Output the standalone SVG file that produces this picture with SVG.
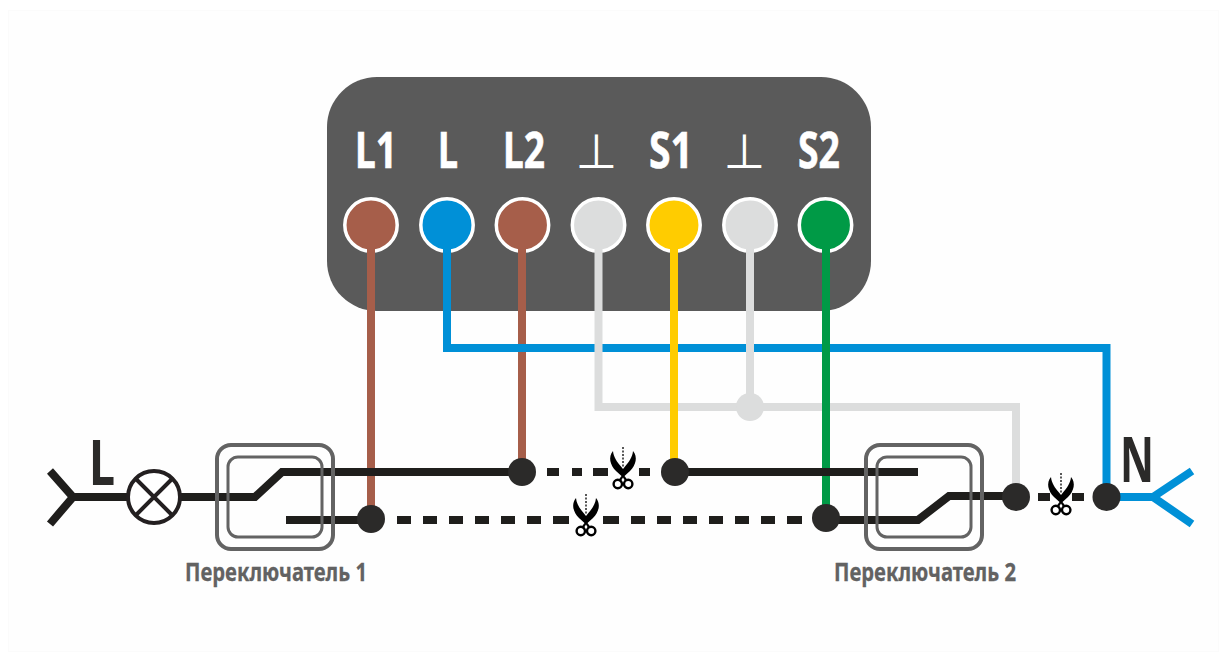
<svg xmlns="http://www.w3.org/2000/svg" width="1227" height="661" viewBox="0 0 1227 661">
<style>
.w{fill:none;stroke-width:8}
.k{fill:none;stroke:#1f1e1c;stroke-width:8}
.d{fill:#2b2a29}
.t{font-family:"Noto Sans",sans-serif;font-weight:700}
.top{fill:#fff;font-size:50px;stroke:#fff;stroke-width:.6}
.cap{fill:#626262;font-size:25px;stroke:#626262;stroke-width:.3}
.perp{fill:#fff;font-size:48px;font-family:"DejaVu Sans",sans-serif}
.term{stroke:#fff;stroke-width:3.5}
.sw{fill:none;stroke:#636363}
</style>
<defs>
<g id="sc">
<path d="M-10 4C-15 10-13 18-7 24L-1.500 29L-4.500 33L-2.500 34.500L0 30.500L2.500 34.500L4.500 33L1.500 29L7 24C13 18 15 10 10 4C9.500 10 6 15 2 19.500L0 22L-2 19.500C-6 15-9.500 10-10 4Z" fill="#000"/>
<circle cx="-5.200" cy="37" r="4.200" fill="#fff" stroke="#000" stroke-width="2.400"/>
<circle cx="5.200" cy="37" r="4.200" fill="#fff" stroke="#000" stroke-width="2.400"/>
<path d="M0 0V21" stroke="#222" stroke-width="1.500" stroke-dasharray="2 1.500"/>
</g>
</defs>
<rect width="1227" height="661" fill="#fff"/>
<rect x="8.500" y="10.500" width="1210" height="641" fill="#fefefe" stroke="#fbfbfb"/>
<g id="device">
<rect x="327" y="77" width="544" height="234" rx="50" fill="#5a5a5a"/>
<text class="t top" x="355" y="168" textLength="42" lengthAdjust="spacingAndGlyphs">L1</text>
<text class="t top" x="438" y="168" textLength="20" lengthAdjust="spacingAndGlyphs">L</text>
<text class="t top" x="503" y="168" textLength="42" lengthAdjust="spacingAndGlyphs">L2</text>
<text class="perp" x="596.500" y="168" text-anchor="middle">⊥</text>
<text class="t top" x="649" y="168" textLength="44" lengthAdjust="spacingAndGlyphs">S1</text>
<text class="perp" x="744.500" y="168" text-anchor="middle">⊥</text>
<text class="t top" x="798" y="168" textLength="42" lengthAdjust="spacingAndGlyphs">S2</text>
</g>
<g id="terminals">
<circle class="term" cx="371" cy="225" r="26.200" fill="#a65e4a"/>
<circle class="term" cx="447" cy="225" r="26.200" fill="#0090d7"/>
<circle class="term" cx="522.500" cy="225" r="26.200" fill="#a65e4a"/>
<circle class="term" cx="598.500" cy="225" r="26.200" fill="#dcdddd"/>
<circle class="term" cx="674" cy="225" r="26.200" fill="#ffcc00"/>
<circle class="term" cx="750" cy="225" r="26.200" fill="#dcdddd"/>
<circle class="term" cx="825.500" cy="225" r="26.200" fill="#009a46"/>
</g>
<g id="connectors">
<path class="w" stroke="#a65e4a" d="M371 245V519M522 245V472"/>
<path class="w" stroke="#0090d7" d="M447 245V348H1106.500V497H1153M1192 471L1153 497L1192 524"/>
<path class="w" stroke="#dcdddd" d="M598.500 245V407H1016V497M750 245V407"/>
<path class="w" stroke="#ffcc00" d="M674 245V472"/>
<path class="w" stroke="#009a46" d="M826 245V519"/>
<path class="k" d="M50 471L73 497L50 524M73 497H255L282 472H522M675 472H918M286 520H371M826 520H918L949 496H1016"/>
<path class="k" d="M397 520H411M423 520H437M449 520H463M475 520H489M501 520H515M527 520H541M553 520H569M603 520H619M631 520H645M657 520H671M683 520H697M709 520H723M735 520H749M761 520H775M787 520H802M547 472H559M572 472H582M593 472H608M639 472H650M1038 497H1050M1072 497H1084"/>
</g>
<g id="junctions">
<circle class="d" cx="371" cy="519" r="14"/>
<circle class="d" cx="522" cy="472" r="14"/>
<circle class="d" cx="675" cy="472" r="14"/>
<circle class="d" cx="826" cy="518" r="14"/>
<circle class="d" cx="1016" cy="497" r="14"/>
<circle class="d" cx="1106.500" cy="497" r="14"/>
<circle cx="750" cy="407" r="14" fill="#dcdddd"/>
</g>
<g id="lamp">
<circle cx="154" cy="497" r="26" fill="#fff" stroke="#231f20" stroke-width="4"/>
<path d="M136 479L172 515M172 479L136 515" stroke="#231f20" stroke-width="4"/>
</g>
<g id="switch1">
<rect class="sw" x="217" y="445" width="116" height="104" rx="14" stroke-width="4"/>
<rect class="sw" x="228" y="457" width="94" height="80" rx="10" stroke-width="3"/>
</g>
<g id="switch2">
<rect class="sw" x="866" y="445" width="116" height="104" rx="14" stroke-width="4"/>
<rect class="sw" x="877" y="457" width="94" height="80" rx="10" stroke-width="3"/>
</g>
<g id="labels">
<text class="t" x="89" y="485" font-size="63" fill="#2b2a29" textLength="26" lengthAdjust="spacingAndGlyphs">L</text>
<text class="t" x="1120" y="482" font-size="63" fill="#2b2a29" textLength="34" lengthAdjust="spacingAndGlyphs">N</text>
<text class="t cap" x="185" y="581" textLength="182" lengthAdjust="spacingAndGlyphs">Переключатель 1</text>
<text class="t cap" x="834" y="581" textLength="182" lengthAdjust="spacingAndGlyphs">Переключатель 2</text>
</g>
<g id="scissors">
<use href="#sc" x="623" y="447"/>
<use href="#sc" x="586" y="494"/>
<use href="#sc" x="1061" y="473"/>
</g>
</svg>
